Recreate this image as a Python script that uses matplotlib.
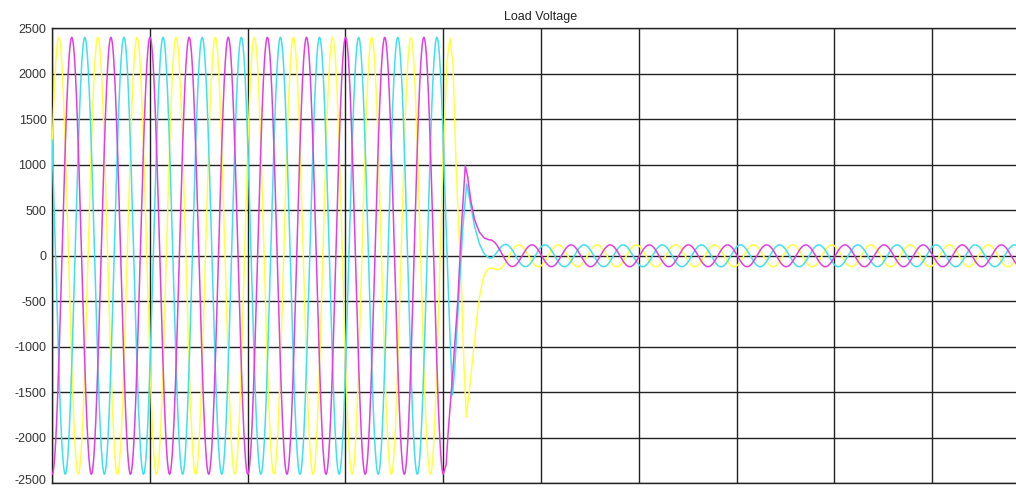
import numpy as np
import matplotlib
matplotlib.use("Agg")
import matplotlib.pyplot as plt
import matplotlib.transforms as mtransforms

# ----------------------------
# Data
# ----------------------------
f_hz = 50.0            # line frequency
t_fault = 0.2          # fault instant (s)
t_post = 0.2245        # start of the small post-fault steady state (s)
t_end = 0.5            # scope time span (s)
amp_pre = 2400.0       # pre-fault peak voltage
amp_post = 120.0       # post-fault peak voltage
dc_tau = 0.003         # decay of the leftover offset after t_post (s)

phase_names = ["A", "B", "C"]
phase_colors = ["#ffff40", "#40e0f0", "#e040e0"]      # yellow, cyan, magenta
phase_pre_deg = [28.0, -212.0, -92.0]
phase_post_deg = [113.5, -126.5, -6.5]

# transient (fault) key points, time in s, voltage in V
trans_a_t = [0.2000, 0.2020, 0.2035, 0.2050, 0.2065, 0.2080, 0.2090, 0.2105,
             0.2118, 0.2130, 0.2150, 0.2175, 0.2190, 0.2205, 0.2225, 0.2240]
trans_a_v = [1137, 2150, 2390, 2100, 1050, 250, -100, -1150,
             -1770, -1550, -1150, -620, -400, -240, -150, -135]

trans_b_t = [0.2000, 0.2020, 0.2035, 0.2048, 0.2060, 0.2080, 0.2100, 0.2120,
             0.2135, 0.2160, 0.2185, 0.2210, 0.2235]
trans_b_v = [1272, 0, -900, -1530, -1200, -450, 300, 790,
             620, 330, 130, 20, -25]

trans_c_t = [0.2000, 0.2015, 0.2025, 0.2050, 0.2075, 0.2095, 0.2113, 0.2125,
             0.2140, 0.2160, 0.2185, 0.2210, 0.2235]
trans_c_v = [-2398, -2300, -1950, -1250, -480, 380, 990, 870,
             620, 400, 260, 195, 175]

trans_t = [trans_a_t, trans_b_t, trans_c_t]
trans_v = [trans_a_v, trans_b_v, trans_c_v]

y_ticks = list(range(-2500, 2501, 500))


# ----------------------------
# Build one phase waveform
# ----------------------------
def phase_wave(k):
    w = 2 * np.pi * f_hz
    t_pre = np.linspace(0, t_fault, 4000)
    v_pre = amp_pre * np.sin(w * t_pre + np.radians(phase_pre_deg[k]))

    t_tr = np.array(trans_t[k], dtype=float)
    v_tr = np.array(trans_v[k], dtype=float)

    t_ss = np.linspace(t_post, t_end, 6000)
    v_ss = amp_post * np.sin(w * t_ss + np.radians(phase_post_deg[k]))
    # leftover offset so the steady state picks up where the transient ends
    offset = v_tr[-1] - v_ss[0]
    v_ss = v_ss + offset * np.exp(-(t_ss - t_post) / dc_tau)

    t = np.concatenate([t_pre, t_tr[1:], t_ss])
    v = np.concatenate([v_pre, v_tr[1:], v_ss])
    return t, v


# ----------------------------
# Plot
# ----------------------------
def plot_scope():
    plt.rcParams["font.family"] = ["Liberation Sans", "DejaVu Sans"]
    fig = plt.figure(figsize=(10.16, 4.88), dpi=100)
    W, H = 1016.0, 488.0
    left, right, top, bottom = 52.0, 1030.0, 28.3, 483.3
    ax = fig.add_axes([left / W, (H - bottom) / H,
                       (right - left) / W, (bottom - top) / H])

    for k in range(3):
        t, v = phase_wave(k)
        ax.plot(t, v, color=phase_colors[k], lw=1.1, zorder=3)

    ax.set_xlim(0, t_end)
    ax.set_ylim(-2500, 2500)
    ax.set_xticks(np.arange(0, t_end + 1e-9, 0.05))
    ax.set_xticklabels([])
    ax.set_yticks(y_ticks)
    ax.set_yticklabels([str(v) for v in y_ticks])
    ax.tick_params(axis="both", length=0, labelsize=9, colors="#333333", pad=4)
    ax.grid(True, color="#222222", lw=1.0, zorder=1)
    ax.set_axisbelow(True)
    for s in ax.spines.values():
        s.set_color("#222222")
        s.set_linewidth(1.0)

    # lift the bottom label a little so it stays inside the picture
    lab = ax.get_yticklabels()[0]
    lab.set_transform(lab.get_transform() +
                      mtransforms.ScaledTranslation(0, 2.5 / 72, fig.dpi_scale_trans))

    ax.set_title("Load Voltage", fontsize=9, color="#222222", pad=6)
    fig.savefig("out.png", dpi=100)


if __name__ == "__main__":
    plot_scope()
